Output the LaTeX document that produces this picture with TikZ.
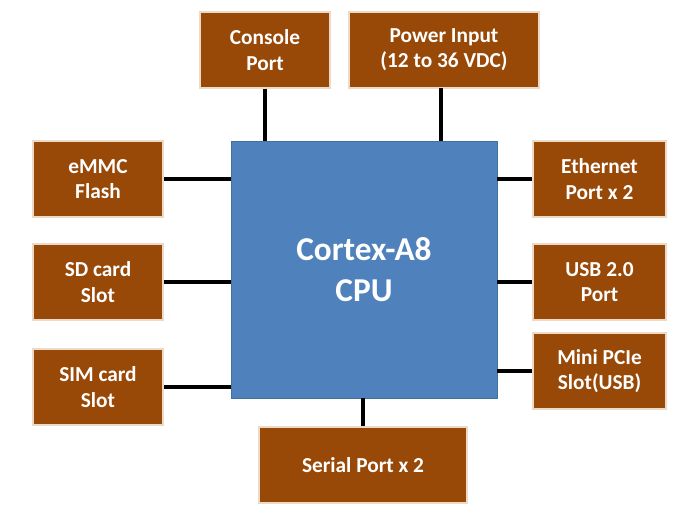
\documentclass[tikz,border=0pt]{standalone}
\usepackage{fontspec}
\setmainfont{Carlito}
\begin{document}
\begin{tikzpicture}[x=0.75pt,y=-0.75pt,
  box/.style={draw=white!70!brown, line width=0.8pt, fill={rgb,255:red,152;green,72;blue,7}, text=white, font=\bfseries\fontsize{16}{19}\selectfont, align=center, inner sep=0pt},
  cpu/.style={draw={rgb,255:red,65;green,113;blue,156}, fill={rgb,255:red,79;green,129;blue,189}, text=white, font=\bfseries\fontsize{25}{31}\selectfont, align=center, inner sep=0pt},
  link/.style={line width=2.4pt, black}]
\useasboundingbox (0,0) rectangle (685,529);
\node[cpu, minimum width=266*0.75pt, minimum height=257*0.75pt] (cpu) at (364,269.5) {Cortex-A8\\CPU};
\node[box, minimum width=130*0.75pt, minimum height=76*0.75pt] (con) at (265,50) {Console\\Port};
\node[box, minimum width=190*0.75pt, minimum height=76*0.75pt] (pwr) at (444,50) {Power Input\\(12 to 36 VDC)};
\node[box, minimum width=130*0.75pt, minimum height=76*0.75pt] (emmc) at (98,179) {eMMC\\Flash};
\node[box, minimum width=130*0.75pt, minimum height=76*0.75pt] (sd) at (98,282) {SD card\\Slot};
\node[box, minimum width=130*0.75pt, minimum height=76*0.75pt] (sim) at (98,387) {SIM card\\Slot};
\node[box, minimum width=133*0.75pt, minimum height=76*0.75pt] (eth) at (599.5,179) {Ethernet\\Port x 2};
\node[box, minimum width=133*0.75pt, minimum height=76*0.75pt] (usb) at (599.5,282) {USB 2.0\\Port};
\node[box, minimum width=133*0.75pt, minimum height=76*0.75pt] (pcie) at (599.5,371) {Mini PCIe\\Slot(USB)};
\node[box, minimum width=208*0.75pt, minimum height=76*0.75pt] (ser) at (363,465) {Serial Port x 2};
\draw[link] (con.south) -- (con.south |- cpu.north);
\draw[link] (441,88) coordinate (p1) -- (p1 |- cpu.north);
\draw[link] (emmc.east) -- (emmc.east -| cpu.west);
\draw[link] (sd.east) -- (sd.east -| cpu.west);
\draw[link] (sim.east) -- (sim.east -| cpu.west);
\draw[link] (eth.west) -- (eth.west -| cpu.east);
\draw[link] (usb.west) -- (usb.west -| cpu.east);
\draw[link] (pcie.west) -- (pcie.west -| cpu.east);
\draw[link] (ser.north) -- (ser.north |- cpu.south);
\end{tikzpicture}
\end{document}
